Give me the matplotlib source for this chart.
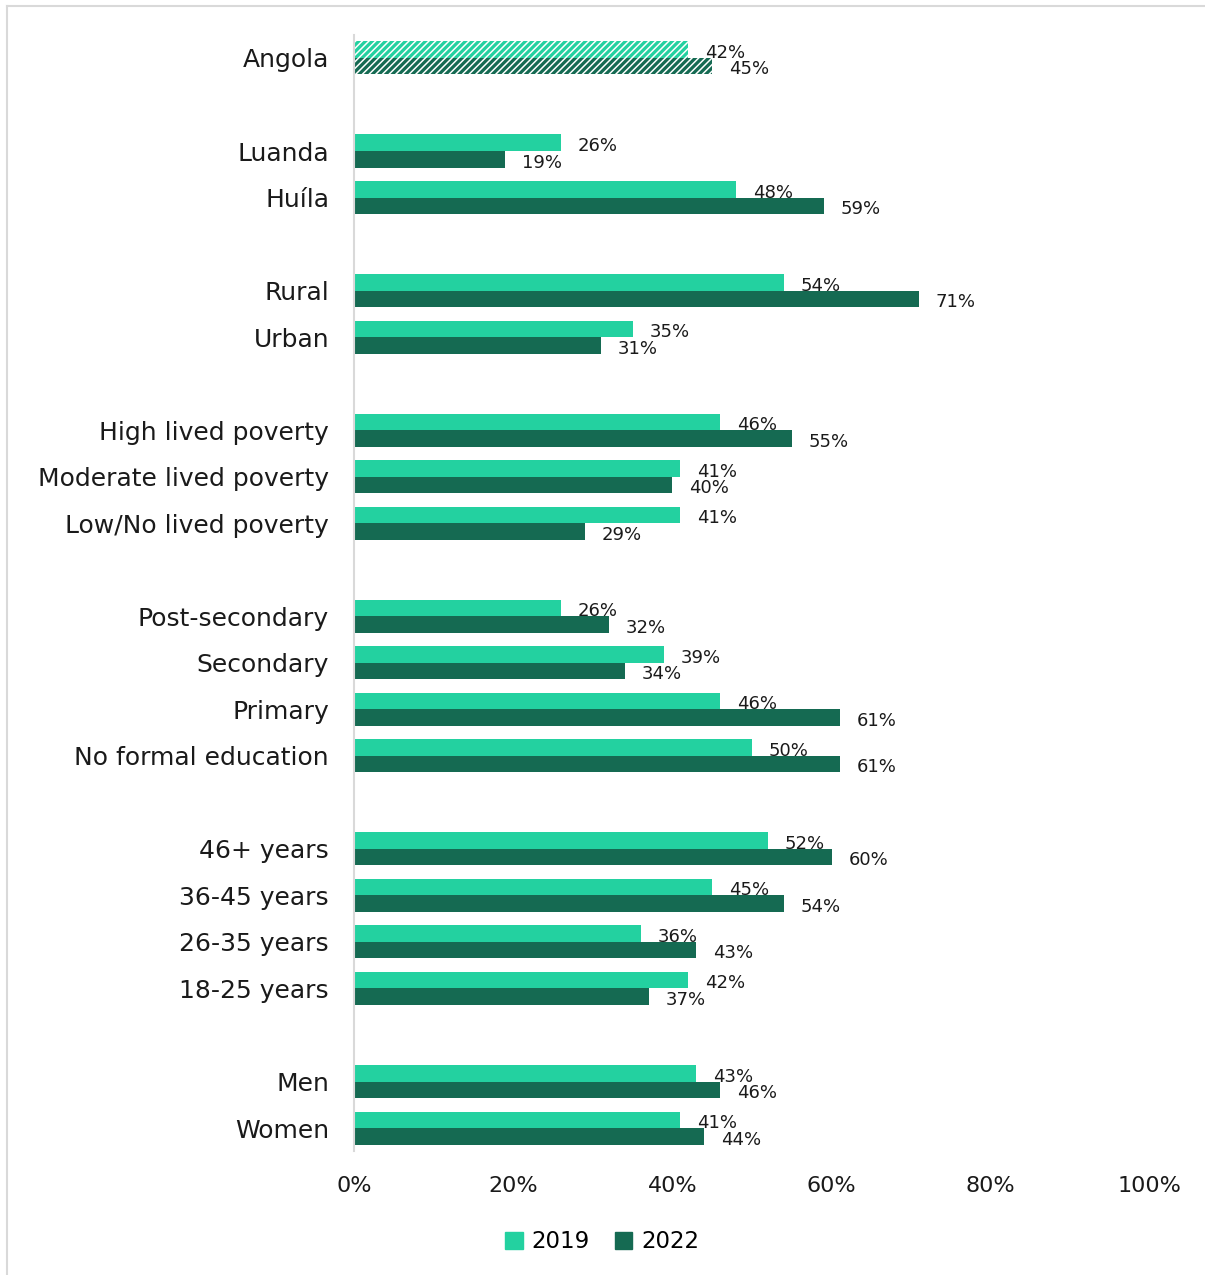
import matplotlib
matplotlib.use("Agg")
import matplotlib.pyplot as plt
from matplotlib.patches import Patch
from matplotlib.lines import Line2D

# ---- data ----
groups = [
    ["Angola"],
    ["Luanda", "Huíla"],
    ["Rural", "Urban"],
    ["High lived poverty", "Moderate lived poverty", "Low/No lived poverty"],
    ["Post-secondary", "Secondary", "Primary", "No formal education"],
    ["46+ years", "36-45 years", "26-35 years", "18-25 years"],
    ["Men", "Women"],
]
v2019 = [42, 26, 48, 54, 35, 46, 41, 41, 26, 39, 46, 50, 52, 45, 36, 42, 43, 41]
v2022 = [45, 19, 59, 71, 31, 55, 40, 29, 32, 34, 61, 61, 60, 54, 43, 37, 46, 44]
series_names = ["2019", "2022"]
xticks = [0, 20, 40, 60, 80, 100]
xtick_labels = ["0%", "20%", "40%", "60%", "80%", "100%"]

# ---- style ----
C19 = "#23D1A0"
C22 = "#156A52"
GRAY = "#D9D9D9"
plt.rcParams["font.family"] = ["DejaVu Sans"]
plt.rcParams["hatch.linewidth"] = 2.3

# positions: one blank slot between groups
labels, ypos = [], []
slot = 0
for gi, g in enumerate(groups):
    for name in g:
        labels.append(name)
        ypos.append(slot)
        slot += 1
    slot += 1
nslots = slot - 1

fig = plt.figure(figsize=(12.05, 12.75), dpi=100)
ax = fig.add_axes([354 / 1205, 1 - 1151.3 / 1275, (1150 - 354) / 1205, (1151.3 - 34.7) / 1275])

bh = 0.355
for i, (y, a, b) in enumerate(zip(ypos, v2019, v2022)):
    if i == 0:
        ax.barh(y - bh / 2, a, height=bh, facecolor="white", edgecolor=C19, hatch="/////", lw=0)
        ax.barh(y + bh / 2, b, height=bh, facecolor="white", edgecolor=C22, hatch="/////", lw=0)
    else:
        ax.barh(y - bh / 2, a, height=bh, color=C19, lw=0)
        ax.barh(y + bh / 2, b, height=bh, color=C22, lw=0)
    ax.text(a + 2.1, y - bh / 2 + 0.07, f"{a}%", va="center", ha="left", fontsize=13, color="#1a1a1a")
    ax.text(b + 2.1, y + bh / 2 + 0.07, f"{b}%", va="center", ha="left", fontsize=13, color="#1a1a1a")

ax.set_ylim(nslots - 0.5, -0.5)
ax.set_xlim(0, 100)
ax.set_yticks(ypos)
ax.set_yticklabels(labels, fontsize=18, color="#1a1a1a")
ax.set_xticks(xticks)
ax.set_xticklabels(xtick_labels, fontsize=16, color="#1a1a1a")
ax.tick_params(axis="y", length=0, pad=18)
ax.tick_params(axis="x", length=0, pad=18)
for s in ["top", "right", "bottom"]:
    ax.spines[s].set_visible(False)
ax.spines["left"].set_color(GRAY)
ax.spines["left"].set_linewidth(1.5)

handles = [Patch(color=C19), Patch(color=C22)]
fig.legend(handles, series_names, loc="center", bbox_to_anchor=(0.5, 1 - 1242 / 1275), ncol=2,
           frameon=False, fontsize=16.5, handlelength=0.75, handleheight=0.75,
           columnspacing=1.1, handletextpad=0.4)

# figure border (top and left visible)
fig.add_artist(Line2D([7 / 1205, 1.0], [1 - 6 / 1275] * 2, color=GRAY, lw=1.5, transform=fig.transFigure))
fig.add_artist(Line2D([7 / 1205] * 2, [0, 1 - 6 / 1275], color=GRAY, lw=1.5, transform=fig.transFigure))

fig.savefig("out.png", dpi=100)
